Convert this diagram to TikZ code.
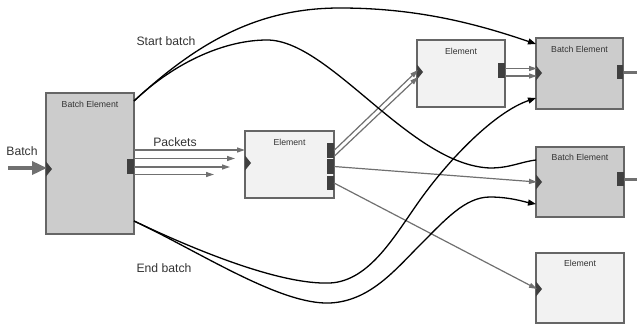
\documentclass[tikz,border=0pt]{standalone}
\usepackage{fontspec}
\setmainfont{Liberation Sans}
\usetikzlibrary{arrows.meta,calc}
\definecolor{bord}{HTML}{666666}
\definecolor{bfill}{HTML}{CCCCCC}
\definecolor{efill}{HTML}{F2F2F2}
\definecolor{portc}{HTML}{404040}
\definecolor{wire}{HTML}{707070}
\definecolor{txt}{HTML}{333333}
\begin{document}
\begin{tikzpicture}[x=1pt,y=-1pt,
  blk/.style={draw=bord,line width=1.3pt,rectangle,inner sep=0pt},
  bblk/.style={blk,fill=bfill},
  eblk/.style={blk,fill=efill},
  port/.style={fill=portc,rectangle,inner sep=0pt,minimum width=6.5pt,minimum height=14.5pt,anchor=east},
  ttl/.style={font=\fontsize{8.7}{10}\selectfont,text=txt,inner sep=0pt},
  lbl/.style={font=\fontsize{12.2}{14}\selectfont,text=txt,inner sep=0pt},
  wirel/.style={draw=wire,line width=1.2pt,-{Triangle[length=8pt,width=5pt]}},
  thickw/.style={draw=wire,line width=3pt},
  ctrl/.style={draw=black,line width=1.3pt},
  ctrla/.style={ctrl,-{Triangle[length=8pt,width=6pt]}},
  inport/.pic={\fill[portc] (0,-7.5) -- (6,0) -- (0,7.5) -- cycle;},
]
\path[use as bounding box] (0,0) rectangle (637,324);

% boxes
\node[bblk,minimum width=88pt,minimum height=141pt] (BE0) at (90,163.5) {};
\node[eblk,minimum width=89pt,minimum height=67pt] (E1) at (289.5,164.5) {};
\node[eblk,minimum width=88pt,minimum height=67pt] (E2) at (461,73.5) {};
\node[bblk,minimum width=87pt,minimum height=71pt] (BE1) at (579.5,73.5) {};
\node[bblk,minimum width=88pt,minimum height=70pt] (BE2) at (580,182) {};
\node[eblk,minimum width=88pt,minimum height=70pt] (E3) at (580,288) {};

% titles
\node[ttl] (tBE0) at ($(BE0.north)+(0,12)$) {Batch Element};
\node[ttl] (tE1) at ($(E1.north)+(0,12)$) {Element};
\node[ttl] (tE2) at ($(E2.north)+(0,12)$) {Element};
\node[ttl] (tBE1) at ($(BE1.north)+(0,12.5)$) {Batch Element};
\node[ttl] (tBE2) at ($(BE2.north)+(0,11.5)$) {Batch Element};
\node[ttl] (tE3) at ($(E3.north)+(0,11.5)$) {Element};

% labels
\node[lbl] (lBatch) at (22,151) {Batch};
\node[lbl] (lPackets) at (175,142) {Packets};
\node[lbl] (lStart) at (166,41) {Start batch};
\node[lbl] (lEnd) at (164,268) {End batch};

% output ports
\node[port] (p0) at (134,166.5) {};
\node[port] (p1a) at (334,150.5) {};
\node[port] (p1b) at (334,166.5) {};
\node[port] (p1c) at (334,183) {};
\node[port] (p2) at (505,70.5) {};
\node[port] (p4) at (623.5,72) {};
\node[port] (p5) at (624,179) {};

% input ports
\pic at (46,169) {inport};
\pic at (245,163) {inport};
\pic at (417,72) {inport};
\pic at (536,73) {inport};
\pic at (536,182) {inport};
\pic at (536,289) {inport};

% coordinates
\coordinate (bin) at (8,168);
\coordinate (be0in) at (47,168);
\coordinate (be0ne) at (134,101);
\coordinate (be0se) at (134,221);
\coordinate (pk1s) at (134,150);  \coordinate (pk1e) at (245,150);
\coordinate (pk2s) at (134,158.5);\coordinate (pk2e) at (235,158.5);
\coordinate (pk3s) at (134,167); \coordinate (pk3e) at (230,167);
\coordinate (pk4s) at (134,174.5);\coordinate (pk4e) at (214,174.5);
\coordinate (e2ina) at (418,70);
\coordinate (e2inb) at (418,77);
\coordinate (be1ina) at (537,68.5);
\coordinate (be1inb) at (537,76);
\coordinate (be2in) at (537,182);
\coordinate (e3in) at (537,289);
\coordinate (be1nw) at (536,44);
\coordinate (be1w) at (536,98);
\coordinate (be2nw) at (536,160);
\coordinate (be2w) at (536,204);
\coordinate (out1) at (637,72);
\coordinate (out2) at (637,179);

% batch input arrow
\draw[draw=wire,line width=3.5pt,-{Triangle[length=15pt,width=13pt]}] (bin) -- (be0in);

% packets
\draw[wirel] (pk1s) -- (pk1e);
\draw[wirel] (pk2s) -- (pk2e);
\draw[wirel] (pk3s) -- (pk3e);
\draw[wirel] (pk4s) -- (pk4e);

% element 1 outputs
\draw[wirel] ($(p1a.east)+(0,0)$) -- (e2ina);
\draw[wirel] ($(p1a.east)+(0,6)$) -- (e2inb);
\draw[wirel] (p1b.east) -- (be2in);
\draw[wirel] (p1c.east) -- (e3in);
\draw[wirel] ($(p2.east)+(0,-2)$) -- (be1ina);
\draw[wirel] ($(p2.east)+(0,5.5)$) -- (be1inb);

% outputs to right edge
\draw[thickw] (p4.east) -- (out1);
\draw[thickw] (p5.east) -- (out2);

% start batch
\draw[ctrla] (be0ne) .. controls (200,40) and (260,8) .. (340,8)
  .. controls (420,8) and (480,25) .. (be1nw);
\draw[ctrl] (be0ne) .. controls (175,62) and (225,40) .. (267,40)
  .. controls (330,40) and (410,165) .. (490,168)
  .. controls (510,168) and (520,162) .. (be2nw);

% end batch
\draw[ctrla] (be0se) .. controls (195,250) and (280,285) .. (330,283)
  .. controls (370,281) and (395,235) .. (420,200)
  .. controls (450,158) and (495,112) .. (be1w);
\draw[ctrla] (be0se) .. controls (200,252) and (280,305) .. (330,303)
  .. controls (370,301) and (395,270) .. (420,245)
  .. controls (445,220) and (465,197) .. (490,197)
  .. controls (510,197) and (525,202) .. (be2w);
\end{tikzpicture}
\end{document}
